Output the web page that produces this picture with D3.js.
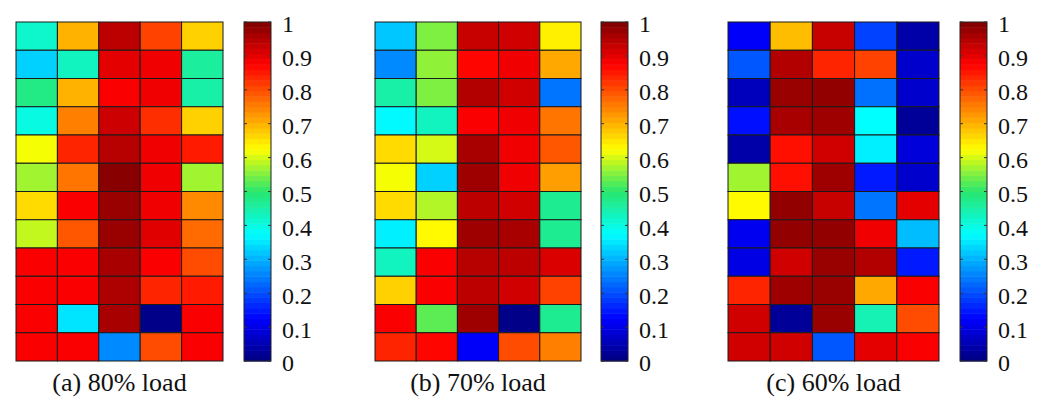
<!DOCTYPE html>
<html>
<head>
<meta charset="utf-8">
<script src="https://cdn.jsdelivr.net/npm/d3@7"></script>
<style>
  html, body { margin: 0; padding: 0; background: #fff; }
  svg { display: block; }
</style>
</head>
<body>
<svg id="chart" width="1046" height="406"></svg>
<script>
// Normalised loading of each cell, rows listed top to bottom, 5 columns each.
const rows = d3.range(1, 13);
const cols = d3.range(1, 6);

const load80 = [
  [0.42, 0.70, 0.94, 0.81, 0.67],
  [0.33, 0.43, 0.90, 0.89, 0.46],
  [0.48, 0.70, 0.88, 0.89, 0.45],
  [0.40, 0.75, 0.925, 0.83, 0.67],
  [0.62, 0.84, 0.945, 0.89, 0.85],
  [0.57, 0.76, 0.99, 0.89, 0.57],
  [0.66, 0.88, 0.975, 0.89, 0.74],
  [0.59, 0.79, 0.975, 0.905, 0.77],
  [0.88, 0.88, 0.96, 0.88, 0.80],
  [0.88, 0.88, 0.955, 0.84, 0.85],
  [0.88, 0.35, 0.96, 0.01, 0.88],
  [0.88, 0.88, 0.26, 0.80, 0.88]
];

const load70 = [
  [0.32, 0.55, 0.93, 0.92, 0.64],
  [0.26, 0.56, 0.87, 0.89, 0.71],
  [0.45, 0.55, 0.95, 0.92, 0.24],
  [0.37, 0.43, 0.88, 0.89, 0.76],
  [0.66, 0.60, 0.96, 0.89, 0.79],
  [0.62, 0.33, 0.97, 0.89, 0.72],
  [0.66, 0.58, 0.94, 0.92, 0.47],
  [0.36, 0.63, 0.97, 0.96, 0.47],
  [0.43, 0.88, 0.945, 0.94, 0.91],
  [0.67, 0.88, 0.94, 0.92, 0.81],
  [0.88, 0.53, 0.97, 0.01, 0.47],
  [0.84, 0.87, 0.12, 0.80, 0.75]
];

const load60 = [
  [0.12, 0.69, 0.93, 0.19, 0.04],
  [0.21, 0.95, 0.84, 0.81, 0.075],
  [0.06, 0.975, 0.98, 0.235, 0.075],
  [0.14, 0.96, 0.97, 0.375, 0.025],
  [0.04, 0.86, 0.92, 0.36, 0.09],
  [0.57, 0.86, 0.97, 0.15, 0.075],
  [0.63, 0.98, 0.93, 0.24, 0.90],
  [0.11, 0.98, 0.98, 0.89, 0.31],
  [0.10, 0.92, 0.975, 0.95, 0.15],
  [0.84, 0.97, 0.975, 0.71, 0.88],
  [0.92, 0.025, 0.975, 0.44, 0.80],
  [0.92, 0.92, 0.21, 0.90, 0.88]
];

const panelTitles = ["(a) 80% load", "(b) 70% load", "(c) 60% load"];
const colorbarTicks = [0, 0.1, 0.2, 0.3, 0.4, 0.5, 0.6, 0.7, 0.8, 0.9, 1];
const colorbarTickLabels = ["0", "0.1", "0.2", "0.3", "0.4", "0.5", "0.6", "0.7", "0.8", "0.9", "1"];

// jet-like colormap (slightly deeper green in the middle)
const color = d3.scaleLinear()
  .domain([0, 0.125, 0.375, 0.5, 0.625, 0.875, 1])
  .range(["#00007f", "#0000ff", "#00ffff", "#28e66e", "#ffff00", "#ff0000", "#7f0000"])
  .interpolate(d3.interpolateRgb)
  .clamp(true);

const FONT = '"Liberation Serif", "Times New Roman", Times, "DejaVu Serif", serif';

const svg = d3.select("#chart");
svg.append("rect").attr("width", 1046).attr("height", 406).attr("fill", "#fff");

const gridTop = 22, gridBottom = 361;
const layout = [
  { gx0: 16,  gx1: 223, cbx: 244 },
  { gx0: 375, gx1: 581, cbx: 601 },
  { gx0: 728, gx1: 939, cbx: 960 }
];
const cbWidth = 27;
const datasets = [load80, load70, load60];

datasets.forEach((data, i) => {
  const L = layout[i];
  const g = svg.append("g");

  const x = d3.scaleBand().domain(cols).range([L.gx0, L.gx1]);
  const y = d3.scaleBand().domain(rows).range([gridTop, gridBottom]);

  const cells = [];
  data.forEach((row, ri) => row.forEach((v, ci) => cells.push({ r: rows[ri], c: cols[ci], v })));

  g.selectAll("rect.cell")
    .data(cells)
    .join("rect")
    .attr("class", "cell")
    .attr("x", d => x(d.c))
    .attr("y", d => y(d.r))
    .attr("width", x.bandwidth())
    .attr("height", y.bandwidth())
    .attr("fill", d => color(d.v))
    .attr("stroke", "#1a1a1a")
    .attr("stroke-width", 1);

  // colour bar: 64 discrete levels
  const cb = d3.scaleLinear().domain([0, 1]).range([gridBottom, gridTop]);
  const nLevels = 64;
  const levels = d3.range(nLevels);
  g.selectAll("rect.level")
    .data(levels)
    .join("rect")
    .attr("class", "level")
    .attr("x", L.cbx)
    .attr("width", cbWidth)
    .attr("y", k => cb((k + 1) / nLevels))
    .attr("height", k => cb(k / nLevels) - cb((k + 1) / nLevels) + 0.5)
    .attr("fill", k => color((k + 0.5) / nLevels));

  g.append("rect")
    .attr("x", L.cbx).attr("y", gridTop)
    .attr("width", cbWidth).attr("height", gridBottom - gridTop)
    .attr("fill", "none").attr("stroke", "#222").attr("stroke-width", 1);

  const ticks = g.selectAll("g.tick")
    .data(colorbarTicks)
    .join("g")
    .attr("class", "tick")
    .attr("transform", d => `translate(0,${cb(d)})`);

  ticks.append("line")
    .attr("x1", L.cbx).attr("x2", L.cbx + 3)
    .attr("stroke", "#333").attr("stroke-width", 1);
  ticks.append("line")
    .attr("x1", L.cbx + cbWidth - 3).attr("x2", L.cbx + cbWidth)
    .attr("stroke", "#333").attr("stroke-width", 1);
  ticks.append("text")
    .attr("x", L.cbx + cbWidth + 11)
    .attr("y", 2)
    .attr("dy", "0.35em")
    .attr("font-family", FONT)
    .attr("font-size", 24)
    .attr("fill", "#111")
    .text((d, k) => colorbarTickLabels[k]);

  g.append("text")
    .attr("x", (L.gx0 + L.gx1) / 2)
    .attr("y", 391)
    .attr("text-anchor", "middle")
    .attr("font-family", FONT)
    .attr("font-size", 26)
    .attr("fill", "#111")
    .text(panelTitles[i]);
});
</script>
</body>
</html>
